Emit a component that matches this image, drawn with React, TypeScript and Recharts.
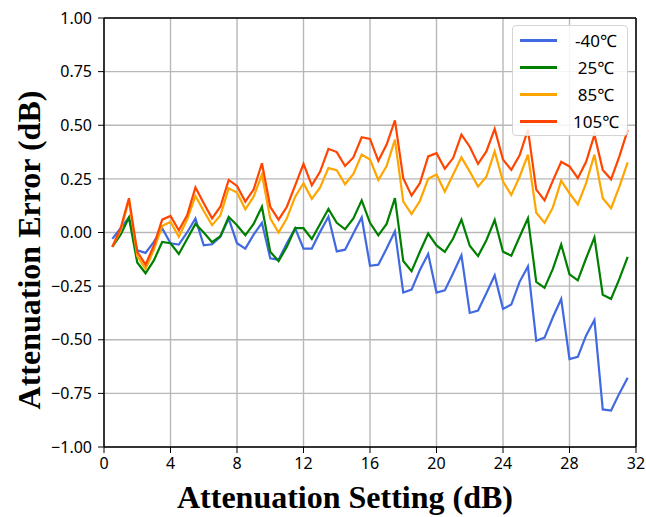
import React from 'react';
import { LineChart, Line, XAxis, YAxis, CartesianGrid, Legend, ReferenceLine } from 'recharts';

// attenuation setting (dB), 0.5 dB steps
const attenuationSetting = [
  0.5, 1, 1.5, 2, 2.5, 3, 3.5, 4, 4.5, 5, 5.5, 6, 6.5, 7, 7.5, 8,
  8.5, 9, 9.5, 10, 10.5, 11, 11.5, 12, 12.5, 13, 13.5, 14, 14.5, 15, 15.5, 16,
  16.5, 17, 17.5, 18, 18.5, 19, 19.5, 20, 20.5, 21, 21.5, 22, 22.5, 23, 23.5, 24,
  24.5, 25, 25.5, 26, 26.5, 27, 27.5, 28, 28.5, 29, 29.5, 30, 30.5, 31, 31.5,
];

const errMinus40 = [
  -0.03, 0.02, 0.07, -0.083, -0.095, -0.044, 0.02, -0.05, -0.056, 0.0, 0.065, -0.06, -0.055,
  -0.02, 0.065, -0.05, -0.075, -0.01, 0.045, -0.12, -0.127, -0.05, 0.02, -0.075, -0.075,
  0.003, 0.073, -0.088, -0.08, -0.005, 0.07, -0.155, -0.15, -0.075, 0.006, -0.28, -0.266,
  -0.175, -0.1, -0.28, -0.27, -0.19, -0.106, -0.375, -0.364, -0.283, -0.2, -0.356, -0.336, -0.23,
  -0.158, -0.505, -0.49, -0.395, -0.31, -0.59, -0.58, -0.48, -0.408, -0.825, -0.83, -0.75, -0.677,
];

const err25 = [
  -0.067, -0.01, 0.07, -0.14, -0.19, -0.13, -0.044, -0.05, -0.1, -0.03, 0.04, 0.0, -0.045,
  -0.017, 0.073, 0.034, -0.013, 0.04, 0.12, -0.09, -0.133, -0.067, 0.02, 0.02, -0.03,
  0.04, 0.11, 0.045, 0.015, 0.066, 0.15, 0.045, -0.013, 0.04, 0.16, -0.133, -0.18,
  -0.09, -0.005, -0.06, -0.09, -0.028, 0.06, -0.062, -0.11, -0.036, 0.058, -0.09, -0.108, -0.02,
  0.066, -0.23, -0.258, -0.17, -0.056, -0.195, -0.223, -0.12, -0.023, -0.29, -0.31, -0.216, -0.114,
];

const err85 = [
  -0.067, 0.01, 0.15, -0.11, -0.17, -0.08, 0.03, 0.05, -0.02, 0.06, 0.17, 0.1, 0.034,
  0.08, 0.206, 0.186, 0.108, 0.167, 0.27, 0.066, 0.0, 0.066, 0.167, 0.23, 0.157,
  0.21, 0.3, 0.29, 0.225, 0.273, 0.363, 0.34, 0.245, 0.31, 0.433, 0.144, 0.086,
  0.147, 0.25, 0.27, 0.19, 0.27, 0.35, 0.284, 0.214, 0.26, 0.378, 0.237, 0.175, 0.26,
  0.363, 0.092, 0.045, 0.117, 0.242, 0.183, 0.131, 0.23, 0.363, 0.16, 0.113, 0.214, 0.327,
];

const err105 = [
  -0.067, 0.02, 0.16, -0.09, -0.15, -0.06, 0.06, 0.077, 0.01, 0.08, 0.21, 0.136, 0.066,
  0.12, 0.245, 0.217, 0.144, 0.2, 0.323, 0.12, 0.06, 0.12, 0.22, 0.32, 0.22,
  0.284, 0.39, 0.375, 0.31, 0.35, 0.444, 0.436, 0.334, 0.41, 0.523, 0.253, 0.172,
  0.23, 0.355, 0.37, 0.297, 0.347, 0.456, 0.4, 0.32, 0.378, 0.483, 0.34, 0.292, 0.36,
  0.48, 0.2, 0.15, 0.242, 0.33, 0.308, 0.253, 0.33, 0.456, 0.292, 0.248, 0.355, 0.477,
];

const xTicks = [0, 4, 8, 12, 16, 20, 24, 28, 32];
const yTicks = [-1, -0.75, -0.5, -0.25, 0, 0.25, 0.5, 0.75, 1];

const series = [
  { key: 'm40', name: '-40℃', color: '#4169E1' },
  { key: 't25', name: '25℃', color: '#008000' },
  { key: 't85', name: '85℃', color: '#FFA500' },
  { key: 't105', name: '105℃', color: '#FF4500' },
];

const chartData = attenuationSetting.map((x, i) => ({
  x,
  m40: errMinus40[i],
  t25: err25[i],
  t85: err85[i],
  t105: err105[i],
}));

const tickFont = { fontFamily: '"Noto Sans", sans-serif', fontSize: 16, fill: '#000' };
const titleFont = { fontFamily: '"Liberation Serif", serif', fontSize: 32, fontWeight: 700, fill: '#000' };

const fmtY = (v: number) => (v < 0 ? '\u2212' : '') + Math.abs(v).toFixed(2);

const XTitle = () => (
  <text x={345} y={508} textAnchor="middle" style={titleFont}>
    Attenuation Setting (dB)
  </text>
);

const YTitle = () => (
  <text x={40} y={250} textAnchor="middle" transform="rotate(-90, 40, 250)" style={titleFont}>
    Attenuation Error (dB)
  </text>
);

const LegendBox = () => (
  <div
    style={{
      width: 116,
      height: 111,
      boxSizing: 'border-box',
      border: '1px solid #d5d5d5',
      borderRadius: 4,
      background: 'rgba(255,255,255,0.85)',
      paddingTop: 1,
      fontFamily: '"Noto Sans", sans-serif',
      fontSize: 17,
      color: '#000',
    }}
  >
    {series.map((s) => (
      <div key={s.key} style={{ height: 27, display: 'flex', alignItems: 'center', position: 'relative' }}>
        <div style={{ position: 'absolute', left: 7, width: 37, height: 2.5, background: s.color }} />
        <div style={{ position: 'absolute', left: 50, width: 66, textAlign: 'center' }}>{s.name}</div>
      </div>
    ))}
  </div>
);

const App: React.FC = () => {
  return (
    <div style={{ position: 'absolute', left: 0, top: 0 }}>
      <LineChart
        width={646}
        height={517}
        data={chartData}
        margin={{ top: 18, right: 10, bottom: 40, left: 44 }}
      >
        <CartesianGrid stroke="#b8b8b8" strokeWidth={1.4} />
        <XAxis
          dataKey="x"
          type="number"
          domain={[0, 32]}
          ticks={xTicks}
          interval={0}
          height={30}
          tick={tickFont}
          tickSize={6}
          tickMargin={5}
          tickLine={{ stroke: '#000' }}
          axisLine={{ stroke: '#000', strokeWidth: 1.5 }}
          label={<XTitle />}
        />
        <YAxis
          type="number"
          domain={[-1, 1]}
          ticks={yTicks}
          interval={0}
          width={60}
          tick={tickFont}
          tickFormatter={fmtY}
          tickSize={6}
          tickMargin={6}
          tickLine={{ stroke: '#000' }}
          axisLine={{ stroke: '#000', strokeWidth: 1.5 }}
          label={<YTitle />}
        />
        <ReferenceLine y={1} stroke="#000" strokeWidth={1.5} />
        <ReferenceLine x={32} stroke="#000" strokeWidth={1.5} />
        {series.map((s) => (
          <Line
            key={s.key}
            type="linear"
            dataKey={s.key}
            name={s.name}
            stroke={s.color}
            strokeWidth={2.2}
            dot={false}
            isAnimationActive={false}
          />
        ))}
        <Legend
          layout="vertical"
          align="center"
          verticalAlign="middle"
          content={<LegendBox />}
          wrapperStyle={{ position: 'absolute', left: 512, top: 25, width: 116, height: 111 }}
        />
      </LineChart>
    </div>
  );
};

export default App;
